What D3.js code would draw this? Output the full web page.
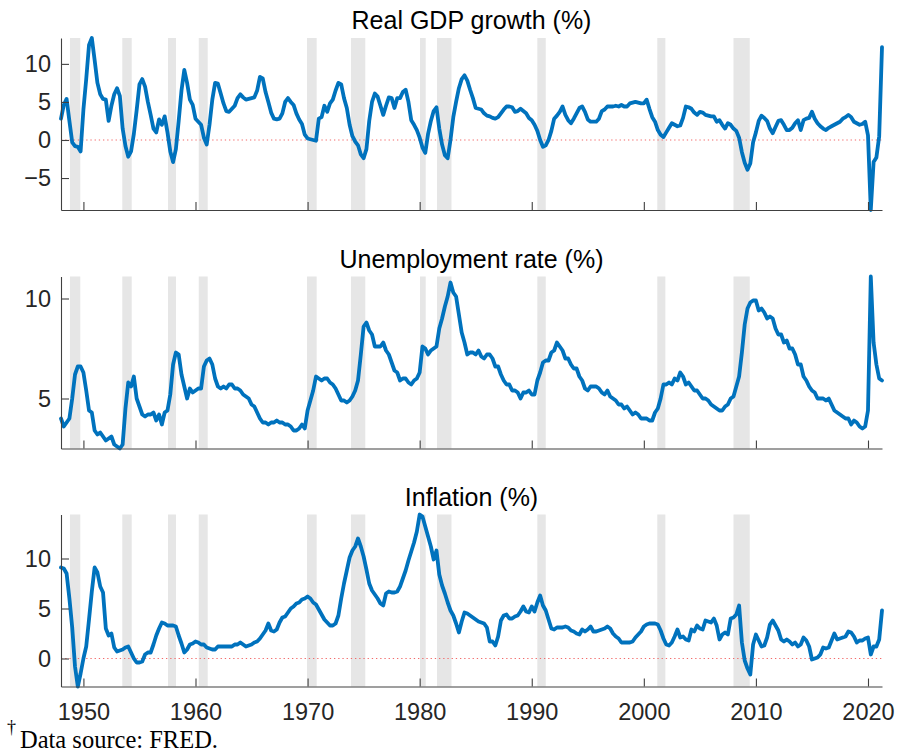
<!DOCTYPE html>
<html><head><meta charset="utf-8">
<script src="https://cdn.jsdelivr.net/npm/d3@7"></script>
<style>html,body{margin:0;padding:0;background:#fff;} svg{display:block;}</style>
</head><body>
<svg id="chart" width="901" height="753"></svg>
<script>
// ---- Data (quarterly, 1948Q1 .. 2021Q2) ----
const firstYear = 1948;
const quarterCount = 294;

const gdpGrowth = [
  2.8, 4.6, 5.4, 2.5,   -0.3, -0.8, -0.9, -1.5,   4.0, 8.0, 12.5, 13.4,   10.5, 7.5, 6.0, 5.4,
  5.3, 2.5, 4.5, 6.0,   6.8, 5.8, 1.5, -0.8,   -2.2, -1.5, 0.8, 3.9,   7.3, 8.0, 7.0, 5.0,
  3.3, 1.5, 1.0, 2.7,   2.0, 3.1, 1.0, -1.5,   -2.9, -1.2, 2.5, 6.5,   9.2, 7.5, 5.3, 4.6,
  2.8, 2.4, 2.0, 0.3,   -0.6, 2.0, 5.3, 7.5,   7.4, 6.1, 4.8, 3.8,   3.7, 4.1, 4.5, 5.5,
  6.0, 5.6, 5.3, 5.4,   5.5, 5.6, 6.5, 8.3,   8.1, 6.3, 5.0, 3.6,   2.8, 2.7, 2.8, 3.5,
  5.0, 5.5, 5.0, 4.6,   3.5, 2.7, 2.1, 0.7,   0.2, 0.1, 0.0, -0.1,   2.8, 3.0, 4.5, 3.7,
  4.8, 5.3, 6.5, 7.5,   7.3, 5.5, 4.2, 2.0,   0.5, -0.2, -0.7, -1.9,   -2.4, -1.2, 2.5, 5.0,
  6.1, 5.7, 4.5, 3.3,   4.5, 5.6, 5.5, 4.2,   5.5, 5.5, 6.3, 6.6,   5.0, 2.6, 2.0, 1.3,
  0.3, -1.0, -1.7, 0.8,   2.5, 3.8, 4.3, 1.5,   -0.6, -2.0, -2.4, 0.0,   3.0, 5.0, 6.8, 8.0,
  8.5, 7.8, 6.6, 5.5,   4.2, 4.1, 4.0, 3.5,   3.2, 3.1, 2.9, 2.8,   3.0, 3.5, 4.0, 4.4,
  4.4, 4.3, 3.7, 3.8,   4.1, 3.8, 3.5, 2.9,   2.6, 2.0, 1.2, 0.0,   -0.9, -0.7, 0.0, 1.2,
  2.8, 3.2, 3.7, 4.4,   3.3, 2.6, 2.2, 2.8,   3.5, 4.2, 4.4, 3.7,   2.7, 2.4, 2.4, 2.4,
  2.8, 3.8, 4.0, 4.4,   4.4, 4.4, 4.5, 4.4,   4.6, 4.4, 4.4, 4.8,   4.9, 5.0, 4.9, 4.8,
  4.8, 5.3, 4.1, 3.0,   2.4, 1.3, 0.7, 0.4,   1.0, 1.6, 2.2, 2.0,   1.8, 1.9, 2.9, 4.4,
  4.3, 4.1, 3.6, 3.3,   3.7, 3.6, 3.3, 3.2,   3.1, 3.1, 2.4, 2.6,   2.0, 1.5, 2.2, 2.0,
  1.5, 1.2, 0.3, -1.6,   -3.0, -3.9, -3.1, -0.3,   1.0, 2.5, 3.2, 2.9,   2.5, 1.5, 0.9, 1.7,
  2.5, 2.6, 2.0, 1.3,   1.3, 1.6, 2.2, 2.6,   1.3, 2.6, 2.8, 2.9,   3.7, 2.8, 2.2, 1.8,
  1.5, 1.3, 1.6, 1.8,   2.0, 2.2, 2.4, 2.8,   3.0, 3.3, 3.0, 2.4,   2.2, 2.0, 2.1, 2.4,
  0.6, -9.2, -2.9, -2.3,   0.5, 12.2
];

const unemployment = [
  4.0, 3.6, 3.8, 4.0,   5.0, 6.2, 6.6, 6.6,   6.3, 5.4, 4.4, 4.3,   3.4, 3.2, 3.3, 3.1,
  2.9, 3.0, 3.1, 2.7,   2.6, 2.5, 2.7, 4.5,   5.8, 5.6, 6.1, 5.0,   4.6, 4.2, 4.1, 4.2,
  4.2, 4.3, 3.9, 4.2,   3.7, 4.3, 4.4, 5.2,   6.7, 7.3, 7.2, 6.2,   5.6, 5.0, 5.5, 5.3,
  5.4, 5.5, 5.5, 6.6,   6.9, 7.0, 6.7, 6.0,   5.6, 5.5, 5.6, 5.5,   5.7, 5.7, 5.5, 5.5,
  5.4, 5.2, 5.1, 5.0,   4.7, 4.6, 4.3, 4.0,   3.8, 3.8, 3.7, 3.8,   3.8, 3.9, 3.8, 3.8,
  3.7, 3.7, 3.6, 3.4,   3.4, 3.5, 3.7, 3.5,   4.4, 4.9, 5.4, 6.1,   6.0, 5.9, 6.0, 6.0,
  5.8, 5.7, 5.5, 5.2,   4.9, 4.9, 4.8, 4.9,   5.1, 5.4, 5.9, 7.2,   8.6, 8.8, 8.4, 8.2,
  7.6, 7.6, 7.6, 7.8,   7.4, 7.2, 6.8, 6.4,   6.3, 5.9, 6.0, 6.0,   5.8, 5.7, 5.9, 6.0,
  6.3, 7.6, 7.5, 7.2,   7.4, 7.5, 7.6, 8.5,   9.0, 9.6, 10.1, 10.8,   10.3, 10.1, 9.2, 8.3,
  7.8, 7.2, 7.3, 7.3,   7.2, 7.4, 7.1, 7.0,   7.2, 7.2, 7.0, 6.6,   6.6, 6.2, 5.9, 5.7,
  5.7, 5.4, 5.4, 5.3,   5.0, 5.3, 5.3, 5.4,   5.2, 5.2, 5.9, 6.3,   6.8, 6.9, 6.9, 7.3,
  7.4, 7.8, 7.6, 7.4,   7.0, 7.0, 6.7, 6.5,   6.5, 6.1, 5.9, 5.5,   5.4, 5.6, 5.6, 5.6,
  5.5, 5.3, 5.2, 5.4,   5.1, 5.0, 4.9, 4.7,   4.7, 4.5, 4.6, 4.4,   4.2, 4.3, 4.2, 4.0,
  4.0, 4.0, 3.9, 3.9,   4.3, 4.5, 5.0, 5.7,   5.7, 5.8, 5.7, 6.0,   5.9, 6.3, 6.1, 5.7,
  5.8, 5.6, 5.4, 5.4,   5.2, 5.0, 5.0, 4.9,   4.7, 4.6, 4.5, 4.4,   4.4, 4.6, 4.7, 5.0,
  5.1, 5.6, 6.1, 7.3,   8.7, 9.5, 9.8, 9.9,   9.9, 9.4, 9.5, 9.3,   9.0, 9.1, 9.0, 8.5,
  8.2, 8.2, 7.8, 7.9,   7.5, 7.5, 7.2, 6.7,   6.7, 6.1, 5.9, 5.6,   5.4, 5.3, 5.0, 5.0,
  5.0, 4.9, 5.0, 4.7,   4.4, 4.3, 4.2, 4.1,   4.0, 4.0, 3.7, 3.9,   3.8, 3.6, 3.5, 3.6,
  4.4, 11.1, 7.8, 6.7,   6.0, 5.9
];

const inflation = [
  9.1, 9.0, 8.5, 6.0,   3.1, -0.8, -2.8, -1.5,   0.0, 1.2, 3.9, 6.7,   9.1, 8.6, 7.2, 6.6,
  3.0, 2.3, 2.5, 1.1,   0.7, 0.8, 0.9, 1.1,   1.2, 0.6, 0.0, -0.4,   -0.4, -0.3, 0.4, 0.6,
  0.6, 1.4, 2.3, 3.0,   3.6, 3.5, 3.3, 3.3,   3.3, 3.2, 2.3, 1.5,   0.6, 0.9, 1.4, 1.5,
  1.7, 1.6, 1.4, 1.4,   1.1, 1.0, 0.9, 0.9,   1.2, 1.2, 1.2, 1.2,   1.2, 1.2, 1.4, 1.4,
  1.6, 1.4, 1.2, 1.3,   1.4, 1.6, 1.7, 2.0,   2.4, 2.8, 3.5, 2.8,   2.7, 2.9, 3.6, 4.1,
  4.2, 4.6, 5.0, 5.2,   5.5, 5.6, 5.9, 6.0,   6.2, 6.0, 5.6, 5.4,   4.9, 4.4, 3.9, 3.6,
  3.3, 3.3, 3.5, 4.3,   6.0, 7.5, 8.8, 10.1,   10.8, 11.2, 12.0, 11.2,   10.2, 8.9, 7.5, 6.8,
  6.4, 6.0, 5.5, 5.3,   6.5, 6.7, 6.6, 6.6,   6.7, 7.2, 8.0, 8.8,   9.8, 10.7, 11.6, 12.7,
  14.4, 14.2, 13.2, 12.2,   11.2, 9.9, 10.8, 8.4,   7.3, 6.5, 5.6, 4.8,   4.3, 3.5, 2.6, 3.7,
  4.6, 4.5, 4.3, 4.1,   3.9, 3.7, 3.6, 3.5,   3.1, 1.7, 1.7, 1.3,   2.2, 3.8, 4.3, 4.4,
  4.0, 4.0, 4.2, 4.3,   4.7, 5.2, 4.7, 4.6,   5.2, 4.7, 5.6, 6.3,   5.3, 4.8, 3.9, 3.0,
  2.9, 3.1, 3.1, 3.1,   3.2, 3.1, 2.8, 2.7,   2.5, 2.4, 2.9, 2.7,   2.9, 3.2, 2.7, 2.7,
  2.8, 2.9, 3.0, 3.2,   3.0, 2.5, 2.2, 2.0,   1.6, 1.6, 1.6, 1.6,   1.7, 2.1, 2.4, 2.7,
  3.2, 3.4, 3.5, 3.5,   3.5, 3.4, 2.8, 2.0,   1.4, 1.3, 1.6, 2.2,   2.9, 2.1, 2.2, 1.9,
  1.8, 2.9, 2.7, 3.3,   3.0, 2.9, 3.8, 3.7,   3.6, 4.0, 3.3, 1.9,   2.4, 2.6, 2.4, 4.0,
  4.1, 4.4, 5.3, 1.6,   -0.2, -1.0, -1.6, 1.4,   2.4, 1.8, 1.2, 1.3,   2.1, 3.4, 3.8, 3.3,
  2.8, 1.9, 1.7, 1.9,   1.7, 1.4, 1.6, 1.2,   1.4, 2.1, 1.8, 1.2,   -0.1, 0.0, 0.1, 0.4,
  1.1, 1.0, 1.1, 1.8,   2.5, 1.9, 2.0, 2.1,   2.2, 2.7, 2.6, 2.2,   1.6, 1.8, 1.8, 2.0,
  2.1, 0.4, 1.2, 1.2,   1.9, 4.8
];

// NBER recessions (start, end) in decimal years
const recessions = [
  [1948.80, 1949.72], [1953.47, 1954.31], [1957.55, 1958.26], [1960.29, 1961.09],
  [1969.95, 1970.81], [1973.87, 1975.15], [1980.03, 1980.54], [1981.55, 1982.84],
  [1990.50, 1991.25], [2001.20, 2001.92], [2008.00, 2009.45]
];

const xTickYears = [1950, 1960, 1970, 1980, 1990, 2000, 2010, 2020];
const panelTitles = ["Real GDP growth (%)", "Unemployment rate (%)", "Inflation (%)"];
const yTickValues = [[-5, 0, 5, 10], [5, 10], [0, 5, 10]];
const showZeroLine = [true, false, true];
const footnote = "Data source: FRED.";

// ---- Layout ----
const quarters = d3.range(quarterCount).map(i => firstYear + i / 4);
const series = [gdpGrowth, unemployment, inflation];
const left = 61, right = 882;
const panelTops = [38, 276.5, 514.5];
const panelH = 172;
const blue = "#0072BD";
const axisColor = "#404040";
const tickFont = "Liberation Sans, Arial, Helvetica, sans-serif";

const svg = d3.select("#chart");
const x = d3.scaleLinear().domain([firstYear, quarters[quarters.length - 1]]).range([left, right]);

series.forEach((vals, p) => {
  const top = panelTops[p], bottom = top + panelH;
  const y = d3.scaleLinear().domain(d3.extent(vals)).range([bottom, top]);
  const g = svg.append("g");

  // recession shading
  g.selectAll("rect.rec").data(recessions).join("rect")
    .attr("x", d => x(d[0]))
    .attr("width", d => x(d[1]) - x(d[0]))
    .attr("y", top).attr("height", panelH)
    .attr("fill", "#e6e6e6");

  // zero line
  if (showZeroLine[p]) {
    g.append("line")
      .attr("x1", left).attr("x2", right)
      .attr("y1", y(0)).attr("y2", y(0))
      .attr("stroke", "#f26a6a").attr("stroke-width", 1.1)
      .attr("stroke-dasharray", "1.3,2.9");
  }

  // data line
  const line = d3.line().x((d, i) => x(quarters[i])).y(d => y(d));
  g.append("path").datum(vals)
    .attr("d", line)
    .attr("fill", "none")
    .attr("stroke", blue)
    .attr("stroke-width", 3.8)
    .attr("stroke-linejoin", "round")
    .attr("stroke-linecap", "round");

  // y axis
  const ya = g.append("g").attr("transform", `translate(${left},0)`)
    .call(d3.axisLeft(y).tickValues(yTickValues[p]).tickSizeInner(-8).tickSizeOuter(0).tickPadding(10));
  // x axis
  const xa = g.append("g").attr("transform", `translate(0,${bottom})`)
    .call(d3.axisBottom(x).tickValues(xTickYears).tickSizeInner(-8).tickSizeOuter(0).tickPadding(17)
      .tickFormat(p === 2 ? d3.format("d") : () => ""));

  [ya, xa].forEach(a => {
    a.select(".domain").attr("stroke", axisColor).attr("stroke-width", 1.1);
    a.selectAll(".tick line").attr("stroke", axisColor).attr("stroke-width", 1.1);
    a.selectAll(".tick text").attr("fill", "#262626")
      .style("font-family", tickFont).style("font-size", "23.5px");
  });

  // title
  svg.append("text")
    .attr("x", (left + right) / 2).attr("y", top - 9)
    .attr("text-anchor", "middle")
    .style("font-family", tickFont).style("font-size", "25px")
    .attr("fill", "#000")
    .text(panelTitles[p]);
});

// footnote
svg.append("text").attr("x", 7).attr("y", 733)
  .style("font-family", "Liberation Serif, Times New Roman, serif").style("font-size", "18px")
  .attr("fill", "#000").text("\u2020");
svg.append("text").attr("x", 20).attr("y", 747.5)
  .style("font-family", "Liberation Serif, Times New Roman, serif").style("font-size", "24.5px")
  .attr("fill", "#000").text(footnote);
</script>
</body></html>
